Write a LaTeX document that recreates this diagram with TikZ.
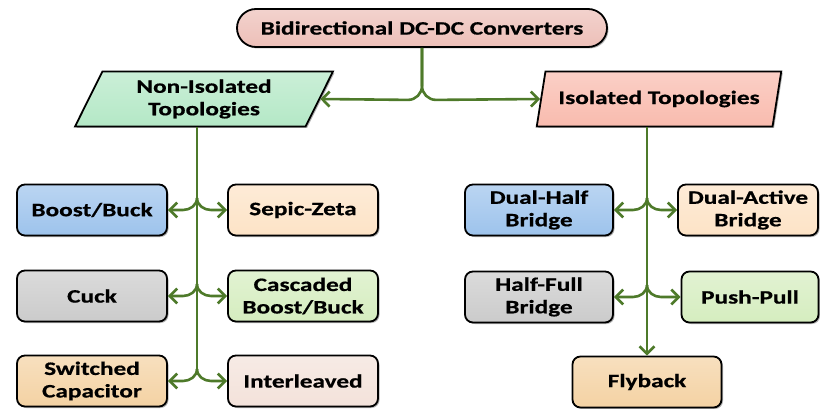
\documentclass[tikz,border=0pt]{standalone}
\usepackage{fontspec}
\newfontfamily\labelfont{Carlito}[FakeStretch=1.33, FakeBold=0.6]
\usetikzlibrary{arrows.meta,shapes.geometric,shadows}
\definecolor{wire}{HTML}{4E7A2A}
\definecolor{topc}{HTML}{EDBFB8}
\definecolor{nonisoc}{HTML}{B4E8C6}
\definecolor{isoc}{HTML}{F9BBAE}
\definecolor{bluec}{HTML}{9DC3EC}
\definecolor{peachc}{HTML}{FDE3C6}
\definecolor{grayc}{HTML}{CBCBCB}
\definecolor{greenc}{HTML}{D5EDBF}
\definecolor{tanc}{HTML}{F4D2A3}
\definecolor{rosec}{HTML}{F3E2DA}
\begin{document}
\begin{tikzpicture}[x=1pt,y=1pt,
  every node/.style={font=\labelfont\bfseries\fontsize{19}{22.5}\selectfont, text=black, align=center, inner sep=0pt},
  softshadow/.style={drop shadow={shadow xshift=1.5pt, shadow yshift=-1.5pt, opacity=0.3, fill=black}},
  card/.style={draw=black, line width=1.8pt, rounded corners=8pt, minimum width=150pt, minimum height=51pt,
    softshadow, top color=#1!70!white, bottom color=#1},
  slanted/.style={draw=black, line width=1.8pt, shape=trapezium, trapezium left angle=65,
    trapezium right angle=115, trapezium stretches=true, minimum height=55pt,
    softshadow, top color=#1!70!white, bottom color=#1},
  wireline/.style={draw=wire, line width=2.6pt},
  flow/.style={wireline, -{Straight Barb[length=7.5pt,width=15pt]}}]
\useasboundingbox (0,0) rectangle (820,-409);

% root and the two families
\node[card=topc, rounded corners=19pt, minimum width=370pt, minimum height=38pt] (root) at (422,-28) {Bidirectional DC-DC Converters};
\node[slanted=nonisoc, minimum width=258pt] (noniso) at (204,-99) {Non-Isolated\\Topologies};
\node[slanted=isoc, minimum width=245pt] (iso) at (659,-99) {Isolated Topologies};

% non-isolated converters
\node[card=bluec]   (bb)  at (92,-210)  {Boost/Buck};
\node[card=peachc]  (sz)  at (303,-210) {Sepic-Zeta};
\node[card=grayc]   (ck)  at (92,-296)  {Cuck};
\node[card=greenc]  (cbb) at (303,-296) {Cascaded\\Boost/Buck};
\node[card=tanc]    (sc)  at (92,-381)  {Switched\\Capacitor};
\node[card=rosec]   (il)  at (303,-381) {Interleaved};

% isolated converters
\node[card=bluec, minimum width=148pt]  (dhb) at (539,-210) {Dual-Half\\Bridge};
\node[card=peachc, minimum width=140pt] (dab) at (748,-210) {Dual-Active\\Bridge};
\node[card=grayc, minimum width=148pt]  (hfb) at (539,-297) {Half-Full\\Bridge};
\node[card=greenc, minimum width=137pt] (pp)  at (750,-297) {Push-Pull};
\node[card=tanc, minimum width=149pt]   (fb)  at (647,-382) {Flyback};

% root split
\draw[flow] (root.south) -- ++(0,-38) to[out=-90,in=0] ++(-14,-14) -- (noniso.east);
\draw[flow] (root.south) -- ++(0,-38) to[out=-90,in=180] ++(14,-14) -- (iso.west);

% non-isolated trunk and branches
\coordinate (trunkL) at (197,-369);
\draw[wireline] (noniso.south -| trunkL) -- (trunkL);
\foreach \l/\r in {bb/sz, ck/cbb, sc/il}{
  \draw[flow] ([yshift=12pt]\l.east -| trunkL) to[out=-90,in=0] ++(-14,-12) -- (\l.east);
  \draw[flow] ([yshift=12pt]\r.west -| trunkL) to[out=-90,in=180] ++(14,-12) -- (\r.west);
}

% isolated trunk and branches
\draw[flow] (iso.south -| fb.north) -- (fb.north);
\foreach \l/\r in {dhb/dab, hfb/pp}{
  \draw[flow] ([yshift=12pt]\l.east -| fb.north) to[out=-90,in=0] ++(-14,-12) -- (\l.east);
  \draw[flow] ([yshift=12pt]\r.west -| fb.north) to[out=-90,in=180] ++(14,-12) -- (\r.west);
}
\end{tikzpicture}
\end{document}
